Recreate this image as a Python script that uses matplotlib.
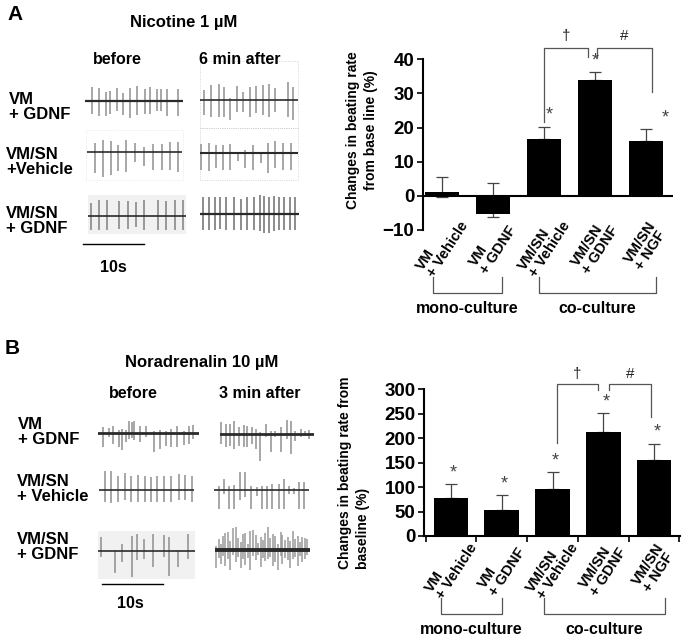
import matplotlib
matplotlib.use('Agg')
import matplotlib.pyplot as plt
import matplotlib.transforms as mtransforms
from matplotlib.patches import Rectangle

plt.rcParams['font.family'] = ['Liberation Sans', 'DejaVu Sans']
plt.rcParams['font.weight'] = 'bold'

W, H = 685, 638

# bar chart data
groups = ['VM\n+ Vehicle', 'VM\n+ GDNF', 'VM/SN\n+ Vehicle', 'VM/SN\n+ GDNF', 'VM/SN\n+ NGF']
nic_mean = [1.0, -5.2, 16.7, 34.0, 16.1]
nic_err_lo = [1.3, 1.0, 0.0, 0.0, 0.0]
nic_err_hi = [4.6, 8.9, 3.6, 2.2, 3.6]
nic_star = [False, False, True, True, True]
nor_mean = [77, 52.5, 96.7, 213, 156]
nor_err_lo = [0, 0, 0, 0, 0]
nor_err_hi = [29, 30.5, 35, 39, 33]
nor_star = [True, True, True, True, True]

# spike traces: (position in trace 0-1, upward size, downward size)
nic_vm_gdnf_before = [(.07,14,13),(.14,13,15),(.21,9,15),(.26,10,13),(.33,13,10),(.39,8,14),(.46,13,17),
                      (.53,15,14),(.61,12,13),(.66,14,13),(.73,12,10),(.78,12,10),(.84,12,15),(.95,12,15)]
nic_vm_gdnf_after = [(.04,10,15),(.11,15,17),(.19,16,17),(.24,13,17),(.31,2,20),(.38,14,12),(.44,8,12),
                     (.51,13,17),(.57,14,13),(.64,15,15),(.70,16,17),(.77,12,12),(.90,18,17),(.95,13,20)]
nic_vmsn_veh_before = [(.08,9,21),(.17,12,25),(.25,11,23),(.33,7,19),(.41,12,20),(.50,9,10),(.60,5,14),
                       (.69,8,18),(.79,8,18),(.87,10,18),(.96,10,20)]
nic_vmsn_veh_after = [(.01,9,17),(.09,10,18),(.16,8,15),(.23,8,17),(.31,9,17),(.39,0,8),(.46,3,15),
                      (.54,8,17),(.62,0,10),(.69,10,20),(.77,12,15),(.85,10,17),(.93,10,17)]
nic_vmsn_gdnf_before = [(.03,13,14),(.11,16,14),(.19,16,14),(.32,15,13),(.41,15,13),(.49,14,11),
                        (.57,16,14),(.71,16,14),(.80,15,14),(.89,16,14),(.97,16,14)]
nic_vmsn_gdnf_after = [(.03,17,16),(.09,17,16),(.15,17,16),(.20,17,15),(.26,17,16),(.34,17,16),(.41,15,16),
                       (.47,17,16),(.55,17,16),(.61,19,17),(.65,18,19),(.70,17,19),(.75,18,17),(.80,17,16),
                       (.85,17,16),(.91,17,16),(.96,17,16)]
nor_vm_gdnf_before = [(.05,6,14),(.11,5,4),(.15,7,11),(.21,3,14),(.24,4,17),(.28,3,9),(.31,12,6),(.34,11,5),
                      (.36,12,7),(.42,7,9),(.48,7,4),(.55,2,19),(.61,3,16),(.67,2,13),(.72,4,14),(.78,7,14),
                      (.85,2,12),(.90,7,11),(.94,8,6)]
nor_vm_gdnf_after = [(.01,12,10),(.06,10,13),(.11,10,12),(.15,13,15),(.20,7,12),(.25,9,13),(.29,8,13),
                     (.34,7,10),(.38,5,15),(.43,2,27),(.49,10,3),(.54,3,18),(.59,3,3),(.65,7,18),(.71,14,5),
                     (.75,13,20),(.80,3,7),(.86,5,3),(.90,3,2),(.95,4,5)]
nor_vmsn_veh_before = [(.06,19,12),(.13,19,13),(.20,14,12),(.27,17,10),(.34,14,12),(.41,15,12),(.48,14,12),
                       (.55,13,12),(.61,14,12),(.68,14,12),(.76,14,12),(.84,16,10),(.91,15,10),(.98,14,12)]
nor_vmsn_veh_after = [(.05,4,19),(.11,11,4),(.16,4,19),(.21,5,19),(.27,18,10),(.33,18,7),(.39,4,19),(.45,3,6),
                      (.51,4,19),(.56,4,19),(.61,6,19),(.68,6,19),(.74,11,19),(.79,4,4),(.84,2,4),(.89,8,19),
                      (.95,8,19)]
nor_vmsn_gdnf_before = [(.03,14,6),(.18,0,22),(.25,7,11),(.35,15,26),(.40,17,9),(.47,12,8),(.57,17,16),
                        (.68,16,6),(.73,14,25),(.82,0,16),(.93,17,8)]
nor_vmsn_gdnf_after = [(.01,4,18),(.04,11,8),(.06,6,14),(.08,14,6),(.11,17,16),(.14,18,9),(.16,9,20),
                       (.19,22,5),(.22,23,12),(.24,12,7),(.27,8,18),(.29,16,9),(.32,17,15),(.35,6,8),
                       (.37,19,20),(.40,20,6),(.43,15,10),(.45,7,5),(.48,13,17),(.50,10,8),(.53,17,11),
                       (.56,23,9),(.58,12,7),(.61,16,16),(.63,14,12),(.66,6,20),(.69,18,6),(.71,15,14),
                       (.74,10,8),(.77,13,10),(.79,9,18),(.82,19,9),(.84,11,7),(.87,14,16),(.89,8,6),
                       (.92,13,12),(.95,12,9),(.97,11,5)]

fig = plt.figure(figsize=(W / 100, H / 100), dpi=100)


def fx(x):
    return x / W


def fy(y):
    return 1 - y / H


def ftext(x, y, s, **kw):
    fig.text(fx(x), fy(y), s, **kw)


def trace(x0, x1, base, spikes, spike_c='#8f8f8f', base_lw=1.2):
    ax = fig.add_axes([fx(x0), fy(base + 28), (x1 - x0) / W, 56 / H])
    ax.set_xlim(0, 1)
    ax.set_ylim(-28, 28)
    ax.axis('off')
    pos = [s[0] for s in spikes]
    ax.vlines(pos, [-s[2] for s in spikes], [s[1] for s in spikes], color=spike_c, lw=1.1)
    ax.axhline(0, color='#2a2a2a', lw=base_lw)


def box(x0, y0, x1, y1, fill=None, dotted=None):
    r = Rectangle((fx(x0), fy(y1)), (x1 - x0) / W, (y1 - y0) / H, transform=fig.transFigure,
                  facecolor=fill or 'none', edgecolor=dotted or 'none', lw=0.6, ls=':', zorder=-1)
    fig.add_artist(r)


# ---------- panel A traces ----------
ftext(7, 14, 'A', fontsize=15, va='center')
ftext(184, 23, 'Nicotine 1 µM', fontsize=12, ha='center', va='center')
ftext(117, 60, 'before', fontsize=11.5, ha='center', va='center')
ftext(240, 60, '6 min after', fontsize=11.5, ha='center', va='center')
ftext(9, 107, 'VM\n+ GDNF', fontsize=12, va='center', linespacing=1.05)
ftext(6, 162, 'VM/SN\n+Vehicle', fontsize=12, va='center', linespacing=1.05)
ftext(6, 221, 'VM/SN\n+ GDNF', fontsize=12, va='center', linespacing=1.05)

box(200, 61, 298, 128, dotted='#c8c8c8')
box(200, 128, 298, 180, dotted='#c8c8c8')
box(86, 130, 183, 180, dotted='#e2e2e2')
box(88, 195, 186, 234, fill='#f1f1f1')

trace(85, 183, 101, nic_vm_gdnf_before, base_lw=1.6)
trace(200, 298, 100, nic_vm_gdnf_after)
trace(87, 182, 152, nic_vmsn_veh_before)
trace(200, 298, 153, nic_vmsn_veh_after, base_lw=1.5)
trace(88, 186, 216, nic_vmsn_gdnf_before, spike_c='#808080')
trace(200, 299, 214, nic_vmsn_gdnf_after, spike_c='#6e6e6e', base_lw=1.6)

fig.add_artist(plt.Line2D([fx(83), fx(144)], [fy(244), fy(244)], color='black', lw=1.0))
ftext(113, 267, '10s', fontsize=11.5, ha='center', va='center')

# ---------- panel B traces ----------
ftext(5, 348, 'B', fontsize=15, va='center')
ftext(202, 362, 'Noradrenalin 10 µM', fontsize=12, ha='center', va='center')
ftext(133, 393, 'before', fontsize=11.5, ha='center', va='center')
ftext(260, 393, '3 min after', fontsize=11.5, ha='center', va='center')
ftext(18, 432, 'VM\n+ GDNF', fontsize=12, va='center', linespacing=1.05)
ftext(17, 489, 'VM/SN\n+ Vehicle', fontsize=12, va='center', linespacing=1.05)
ftext(17, 547, 'VM/SN\n+ GDNF', fontsize=12, va='center', linespacing=1.05)

box(98, 531, 195, 579, fill='#f1f1f1')

trace(98, 199, 432.5, nor_vm_gdnf_before, base_lw=2.0)
trace(220, 314, 433.5, nor_vm_gdnf_after, base_lw=2.0)
trace(99, 194, 490, nor_vmsn_veh_before)
trace(214, 309, 489.5, nor_vmsn_veh_after)
trace(98, 195, 550.5, nor_vmsn_gdnf_before)
trace(215, 310, 550, nor_vmsn_gdnf_after, spike_c='#9a9a9a', base_lw=2.8)

fig.add_artist(plt.Line2D([fx(102), fx(163)], [fy(584), fy(584)], color='black', lw=1.0))
ftext(130, 604, '10s', fontsize=11.5, ha='center', va='center')


# ---------- bar charts ----------
def bar_panel(rect, xlim, ylim, yticks, means, lo, hi, stars, star_dx, label_y,
              mono, co, brk_y, grp_y, sig):
    x0, y0, x1, y1 = rect
    ax = fig.add_axes([fx(x0), fy(y1), (x1 - x0) / W, (y1 - y0) / H])
    xs = list(range(len(means)))
    ax.errorbar(xs, means, yerr=[lo, hi], fmt='none', ecolor='#444444', elinewidth=0.9,
                capsize=4, capthick=0.9, zorder=2)
    ax.bar(xs, means, width=0.68, color='black', zorder=3)
    ax.set_xlim(*xlim)
    ax.set_ylim(*ylim)
    ax.spines['top'].set_visible(False)
    ax.spines['right'].set_visible(False)
    ax.spines['left'].set_linewidth(1.5)
    ax.spines['left'].set_bounds(*ylim)
    ax.set_yticks(yticks)
    ax.tick_params(axis='y', labelsize=13.5, width=1.2, length=4, pad=2)
    for t in ax.get_yticklabels():
        t.set_fontweight('bold')
    for i, m in enumerate(means):
        if stars[i]:
            ax.annotate('*', (i, m + hi[i]), xytext=(star_dx[i], 8), textcoords='offset points',
                        ha='center', va='center', fontsize=13, fontweight='normal', color='#444444')
    bt = mtransforms.blended_transform_factory(ax.transData, fig.transFigure)
    for i, g in enumerate(groups):
        ax.text(i, fy(label_y), g, transform=bt, rotation=57, rotation_mode='anchor',
                ha='center', va='center', fontsize=10.5, multialignment='left', linespacing=0.95)
    for (a, b), name in zip([mono, co], ['mono-culture', 'co-culture']):
        ax.add_line(plt.Line2D([a, a, b, b], [fy(brk_y[0]), fy(brk_y[1]), fy(brk_y[1]), fy(brk_y[0])],
                               transform=bt, color='#555555', lw=0.9, clip_on=False))
        ax.text((a + b) / 2, fy(grp_y), name, transform=bt, ha='center', va='center', fontsize=11.5)
    for (xa, ya, xb, yb, top, sym) in sig:
        ax.plot([xa, xa, xb, xb], [ya, top, top, yb], color='#555555', lw=0.9, clip_on=False)
        ax.text((xa + xb) / 2, top + (ylim[1] - ylim[0]) * 0.07, sym, ha='center', va='center',
                fontsize=11, fontweight='normal', color='#222222', clip_on=False)
    return ax


axA = bar_panel((422.7, 59.3, 673, 230), (-0.38, 4.53), (-10, 40), [-10, 0, 10, 20, 30, 40],
                nic_mean, nic_err_lo, nic_err_hi, nic_star, [0, 0, 4, 0, 14], 246,
                (-0.18, 1.18), (1.9, 4.2), (277, 293), 308,
                [(2.0, 21.7, 2.86, 40.6, 43.2, '†'), (3.04, 40.6, 4.12, 30.5, 43.2, '#')])
axA.spines['bottom'].set_visible(False)
axA.axhline(0, color='black', lw=1.5, zorder=4)
axA.set_xticks([])
fig.text(fx(362), fy(130), 'Changes in beating rate\nfrom base line (%)', rotation=90,
         ha='center', va='center', fontsize=10, multialignment='center', linespacing=1.3)

axB = bar_panel((424, 389.3, 680, 536), (-0.53, 4.51), (0, 300), [0, 50, 100, 150, 200, 250, 300],
                nor_mean, nor_err_lo, nor_err_hi, nor_star, [2, 2, 2, 2, 2], 568,
                (-0.2, 1.0), (1.83, 4.22), (598, 614), 629,
                [(2.08, 191, 2.9, 299, 311, '†'), (3.11, 299, 3.94, 244, 311, '#')])
axB.spines['bottom'].set_linewidth(1.5)
axB.set_xticks([-0.5, 0.5, 1.5, 2.5, 3.5, 4.5])
axB.set_xticklabels([])
axB.tick_params(axis='x', length=4, width=1.2)
fig.text(fx(354), fy(473), 'Changes in beating rate from\nbaseline (%)', rotation=90,
         ha='center', va='center', fontsize=10, multialignment='left', linespacing=1.3)

fig.savefig('out.png', dpi=100)
